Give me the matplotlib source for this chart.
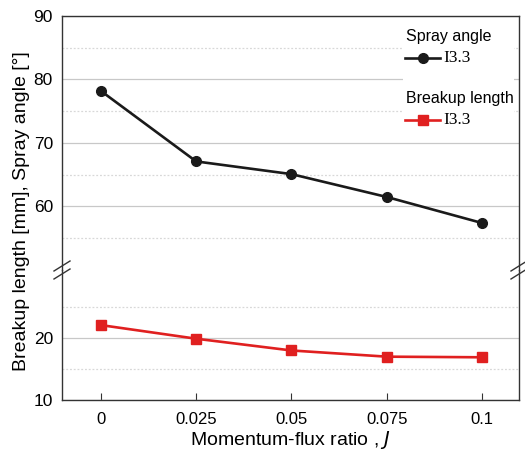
import numpy as np
import matplotlib.pyplot as plt
from matplotlib.lines import Line2D
from matplotlib.patches import Rectangle

plt.rcParams['font.family'] = ['Liberation Sans', 'DejaVu Sans']

# data
J = [0, 0.025, 0.05, 0.075, 0.1]
spray_angle = [78.2, 67.1, 65.1, 61.5, 57.4]
breakup_length = [22.1, 19.9, 18.0, 17.0, 16.9]
xticklabels = ['0', '0.025', '0.05', '0.075', '0.1']

W, H = 525, 458
fig = plt.figure(figsize=(W / 100, H / 100), dpi=100)
left, right = 62 / W, 519 / W
bot, brk, top = 58 / H, 188 / H, 442 / H
ax_lo = fig.add_axes([left, bot, right - left, brk - bot])
ax_hi = fig.add_axes([left, brk, right - left, top - brk], sharex=ax_lo)

ax_hi.set_ylim(50, 90)
ax_lo.set_ylim(10, 31)
ax_hi.set_yticks([60, 70, 80, 90])
ax_hi.set_yticks([55, 65, 75, 85], minor=True)
ax_lo.set_yticks([10, 20])
ax_lo.set_yticks([15, 25], minor=True)

for ax in (ax_hi, ax_lo):
    ax.grid(True, which='major', axis='y', color='#c8c8c8', lw=0.9)
    ax.grid(True, which='minor', axis='y', color='#d8d8d8', lw=0.9, ls=(0, (1.5, 1.5)))
    ax.tick_params(axis='y', which='both', length=0, labelsize=12.5, pad=6.5)
    ax.set_axisbelow(True)
    for s in ax.spines.values():
        s.set_linewidth(1.0)
        s.set_color('#333333')

ax_hi.spines['bottom'].set_visible(False)
ax_lo.spines['top'].set_visible(False)
ax_hi.tick_params(axis='x', which='both', bottom=False, labelbottom=False)

ax_lo.set_xlim(-0.0102, 0.1097)
ax_lo.set_xticks(J)
ax_lo.set_xticklabels(xticklabels)
ax_lo.tick_params(axis='x', direction='in', length=5, labelsize=12, pad=9,
                  color='#333333')
ax_lo.set_xlabel('Momentum-flux ratio , $J$', fontsize=14, labelpad=1)

ax_hi.plot(J, spray_angle, color='#1a1a1a', lw=1.9, marker='o', ms=7,
           zorder=3)
ax_lo.plot(J, breakup_length, color='#e02020', lw=1.9, marker='s', ms=6.5,
           zorder=3)

fig.text(22 / W, 1 - 211 / H, 'Breakup length [mm], Spray angle [°]',
         rotation=90, ha='center', va='center', fontsize=14)

# break marks
for xs in (left, right):
    for dy in (-4, 4):
        y0 = brk + dy / H
        fig.add_artist(Line2D([xs - 8 / W, xs + 8 / W],
                              [y0 - 5 / H, y0 + 5 / H],
                              color='#333333', lw=1.0))

# legend, drawn by hand (pixel positions from top-left)
def px(x, y):
    return x / W, 1 - y / H

fig.add_artist(Rectangle(px(403, 134), 111 / W, 112 / H, facecolor='white',
                         edgecolor='none', transform=fig.transFigure, zorder=2))
entries = [('Spray angle', 37, '#1a1a1a', 'o', 7),
           ('Breakup length', 99, '#e02020', 's', 6.5)]
for title, ty, col, mk, ms in entries:
    fig.text(*px(406, ty), title, ha='left', va='center', fontsize=11.5, zorder=3)
    hy = ty + 21
    fig.add_artist(Line2D([405 / W, 440 / W], [1 - hy / H] * 2, color=col,
                          lw=1.9, zorder=3))
    fig.add_artist(Line2D([422.5 / W], [1 - hy / H], color=col, marker=mk,
                          ms=ms, lw=0, zorder=3))
    fig.text(*px(443, hy), 'I3.3', ha='left', va='center', fontsize=12.5,
             family='Liberation Serif', zorder=3)

fig.savefig('out.png', dpi=100)
